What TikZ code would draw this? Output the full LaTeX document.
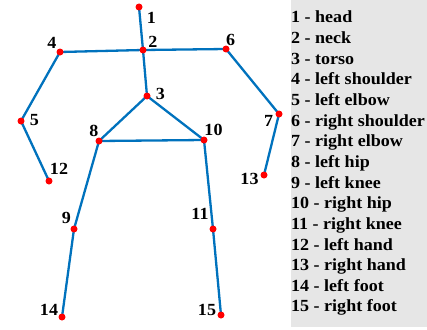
\documentclass[tikz,border=0pt]{standalone}
\usepackage{fontspec}
\newfontfamily\figfont[FakeStretch=1.06]{Liberation Serif}
\usepackage{tikz}
\usetikzlibrary{backgrounds}
\definecolor{bonecol}{RGB}{0,114,189}
\definecolor{legendgray}{RGB}{230,230,230}

\begin{document}
\begin{tikzpicture}[
    x=1pt, y=-1pt,
    joint/.style={circle, fill=red, inner sep=0pt, minimum size=7pt},
    bone/.style={draw=bonecol, line width=2.3pt},
    lbl/.style={font=\figfont\fontsize{17}{19}\selectfont\bfseries, inner sep=0pt},
]
    \useasboundingbox (0,0) rectangle (427,329);
    \fill[legendgray] (291,0) rectangle (427,327);

    % joints and their numbers
    \foreach \n/\x/\y/\dx/\dy in {1/139/7/12.5/10.5, 2/143/50/10/-8.5, 3/147/96/13.5/-2.5,
        4/60/52/-8/-9, 5/21/121/13.5/-1, 6/226/49/4.5/-9.5, 7/279/114/-10.5/7,
        8/99/141/-5/-10.5, 9/74/229/-7.5/-11, 10/204/140/9.5/-10, 11/213/229/-13/-15,
        12/49/181/10/-12.5, 13/264/175/-14.5/3.5, 14/62/317/-13/-7.5, 15/221/315/-14/-5}{
        \node[joint] (j\n) at (\x,\y) {};
        \node[lbl] (l\n) at ([shift={(\dx,\dy)}]j\n.center) {\n};
    }

    \begin{scope}[on background layer]
        \foreach \a/\b in {1/2, 2/4, 2/6, 2/3, 4/5, 5/12, 6/7, 7/13,
            3/8, 3/10, 8/10, 8/9, 9/14, 10/11, 11/15}
            \draw[bone] (j\a.center) -- (j\b.center);
    \end{scope}

    % legend
    \foreach \n/\t in {1/head, 2/neck, 3/torso, 4/left shoulder, 5/left elbow,
        6/right shoulder, 7/right elbow, 8/left hip, 9/left knee, 10/right hip,
        11/right knee, 12/left hand, 13/right hand, 14/left foot, 15/right foot}
        \node[lbl, anchor=base west] (t\n) at (291,{23+(\n-1)*20.64}) {\n\ - \t};
\end{tikzpicture}
\end{document}
